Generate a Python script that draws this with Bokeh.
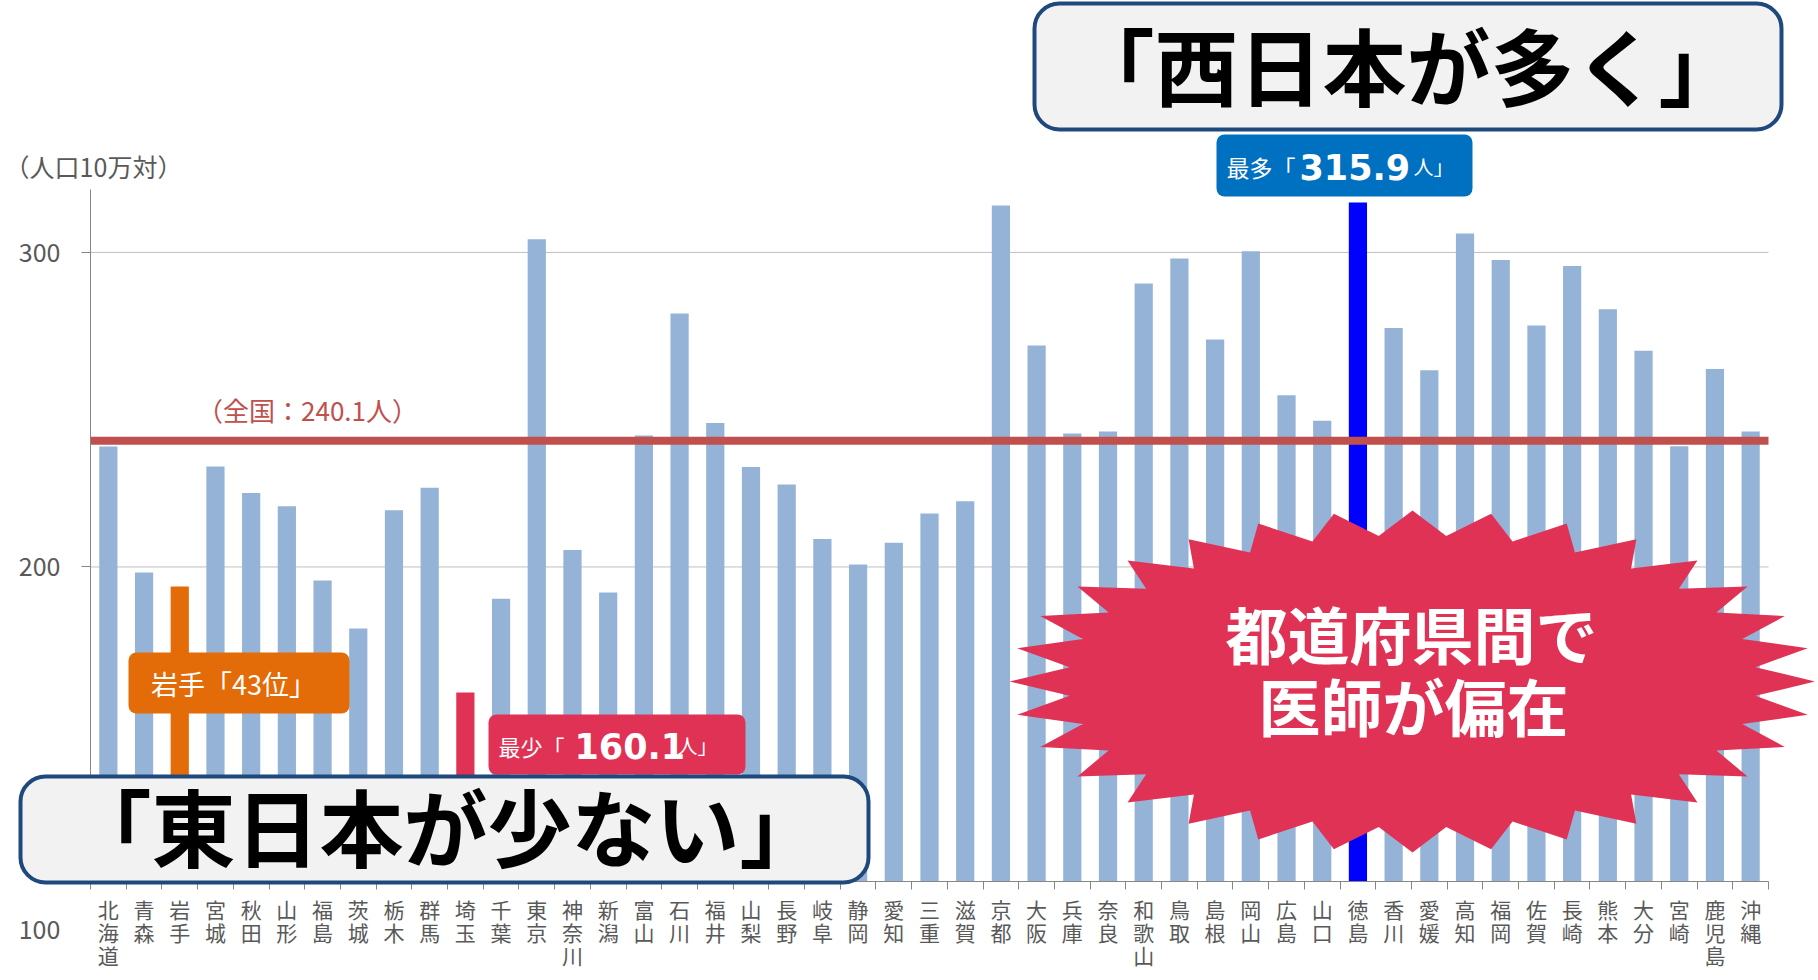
import math
from bokeh.plotting import figure
from bokeh.models import Range1d, FixedTicker, BoxAnnotation, Label, PolyAnnotation
from bokeh.embed import file_html
from bokeh.resources import INLINE

# ---------------- data ----------------
prefectures = ["北海道", "青森", "岩手", "宮城", "秋田", "山形", "福島", "茨城", "栃木", "群馬",
               "埼玉", "千葉", "東京", "神奈川", "新潟", "富山", "石川", "福井", "山梨", "長野",
               "岐阜", "静岡", "愛知", "三重", "滋賀", "京都", "大阪", "兵庫", "奈良", "和歌山",
               "鳥取", "島根", "岡山", "広島", "山口", "徳島", "香川", "愛媛", "高知", "福岡",
               "佐賀", "長崎", "熊本", "大分", "宮崎", "鹿児島", "沖縄"]
doctors_per_100k = [238.3, 198.2, 193.8, 231.9, 223.5, 219.3, 195.7, 180.4, 218.0, 225.2,
                    160.1, 189.9, 304.2, 205.4, 191.9, 241.8, 280.6, 245.8, 231.8, 226.2,
                    208.9, 200.8, 207.7, 217.0, 220.9, 314.9, 270.4, 242.4, 243.1, 290.1,
                    298.1, 272.3, 300.4, 254.6, 246.5, 315.9, 276.0, 262.5, 306.0, 297.6,
                    276.8, 295.7, 281.9, 268.7, 238.4, 262.9, 243.1]
national_average = 240.1
highlight = {"岩手": "#E36C09", "埼玉": "#E03254", "徳島": "#0000FF"}
y_ticks = [200, 300]
y_min, y_max = 100, 320

# ---------------- layout ----------------
JP = "Noto Sans CJK JP"
W, H = 1814, 972
FL, FR, FT, FB = 90, 1768, 189, 881      # chart area edges in picture pixels
n = len(prefectures)
xs = list(range(1, n + 1))
colors = [highlight.get(name, "#95B3D7") for name in prefectures]

ux = n / (FR - FL)                       # data units per pixel
uy = (y_max - y_min) / (FB - FT)


def dx(px):
    return 0.5 + (px - FL) * ux


def dy(py):
    return y_min + (FB - py) * uy


x_range = Range1d(dx(0), dx(W))
y_range = Range1d(dy(H), dy(0))

p = figure(width=W, height=H, x_range=x_range, y_range=y_range, title=None,
           output_backend="svg", toolbar_location=None, min_border=0)
p.outline_line_color = None
p.background_fill_color = "white"
p.border_fill_color = "white"
p.xgrid.visible = False
p.ygrid.visible = False

# gridlines (behind bars)
p.segment(x0=0.5, x1=n + 0.5, y0=y_ticks, y1=y_ticks, line_color="#BFBFBF", line_width=1,
          level="underlay")

p.vbar(x=xs, top=doctors_per_100k, bottom=y_min, width=0.51, fill_color=colors, line_color=None)

# national average line
p.segment(x0=[0.5], x1=[n + 0.5], y0=[national_average], y1=[national_average],
          line_color="#C0504D", line_width=8)

# axes (drawn at fixed locations inside the canvas)
xt = FixedTicker(ticks=xs, minor_ticks=[i + 0.5 for i in range(0, n + 1)])
xa = p.xaxis[0]
xa.fixed_location = y_min
xa.bounds = (0.5, n + 0.5)
xa.ticker = xt
xa.major_label_overrides = {i: "\n".join(list(name)) for i, name in zip(xs, prefectures)}
xa.major_tick_out = 0
xa.major_tick_in = 0
xa.minor_tick_out = 8
xa.minor_tick_in = 0
xa.minor_tick_line_color = "#868686"
xa.axis_line_color = "#868686"
xa.major_label_standoff = 4
xa.major_label_text_font = JP
xa.major_label_text_font_size = "21px"
xa.major_label_text_color = "#595959"
xa.major_label_text_line_height = 0.78

yt = FixedTicker(ticks=y_ticks, minor_ticks=[])
ya = p.yaxis[0]
ya.fixed_location = 0.5
ya.bounds = (y_min, y_max)
ya.ticker = yt
ya.major_tick_out = 9
ya.major_tick_in = 0
ya.minor_tick_line_color = None
ya.major_tick_line_color = "#868686"
ya.axis_line_color = "#868686"
ya.major_label_standoff = 21
ya.major_label_text_font = JP
ya.major_label_text_font_size = "25px"
ya.major_label_text_color = "#595959"


def box(l, r, t, b, fill, line=None, lw=0, radius=8):
    p.add_layout(BoxAnnotation(left=dx(l), right=dx(r), top=dy(t), bottom=dy(b),
                               fill_color=fill, fill_alpha=1.0, line_color=line, line_width=lw,
                               line_alpha=1.0, border_radius=radius, level="annotation"))


def label(text, px, py, size, color, bold=False, align="center", baseline="middle", font=JP):
    p.add_layout(Label(x=dx(px), y=dy(py), text=text, text_font=font, text_font_size=f"{size}px",
                       text_color=color, text_font_style="bold" if bold else "normal",
                       text_align=align, text_baseline=baseline))


# starburst
cx, cy, rx, ry, spikes, inner = 1412, 681, 403, 171, 32, 0.855
sx, sy = [], []
for k in range(2 * spikes):
    a = k * math.pi / spikes
    r = 1.0 if k % 2 == 0 else inner
    sx.append(dx(cx + rx * r * math.cos(a)))
    sy.append(dy(cy + ry * r * math.sin(a)))
p.add_layout(PolyAnnotation(xs=sx, ys=sy, fill_color="#E03254", fill_alpha=1.0, line_color=None))
label("都道府県間で", 1411, 632, 62, "white", bold=True)
label("医師が偏在", 1413, 704, 62, "white", bold=True)

# texts around the axes
label("（人口10万対）", 93, 165, 25, "#595959")
label("100", 39, 929, 25, "#595959")
label("（全国：" + f"{national_average}" + "人）", 307, 409, 26, "#C0504D")

# Iwate
box(128, 349, 652, 713, "#E36C09")
label("岩手「43位」", 233, 683, 27, "white")

# minimum
i_min = doctors_per_100k.index(min(doctors_per_100k))
box(488, 745, 714, 774, "#E03254")
label("最少「", 498, 745, 22, "white", align="left", baseline="alphabetic")
label(f"{doctors_per_100k[i_min]}", 574, 745, 35, "white", bold=True, align="left",
      baseline="alphabetic", font="DejaVu Sans")
label("人」", 677, 745, 20, "white", align="left", baseline="alphabetic")

# maximum
i_max = doctors_per_100k.index(max(doctors_per_100k))
box(1216, 1472, 134, 196, "#0070C0")
label("最多「", 1226, 166, 23, "white", align="left", baseline="alphabetic")
label(f"{doctors_per_100k[i_max]}", 1299, 166, 35, "white", bold=True, align="left",
      baseline="alphabetic", font="DejaVu Sans")
label("人」", 1413, 166, 20, "white", align="left", baseline="alphabetic")

# headline boxes
box(1034, 1781, 3, 129, "#F2F2F2", line="#1F497D", lw=4, radius=25)
label("「西日本が多く」", 1406, 63, 84, "black", bold=True)
box(20, 868, 776, 882, "#F2F2F2", line="#1F497D", lw=4, radius=25)
label("「東日本が少ない」", 445, 824, 84, "black", bold=True)

open("out.html", "w").write(file_html(p, INLINE))
